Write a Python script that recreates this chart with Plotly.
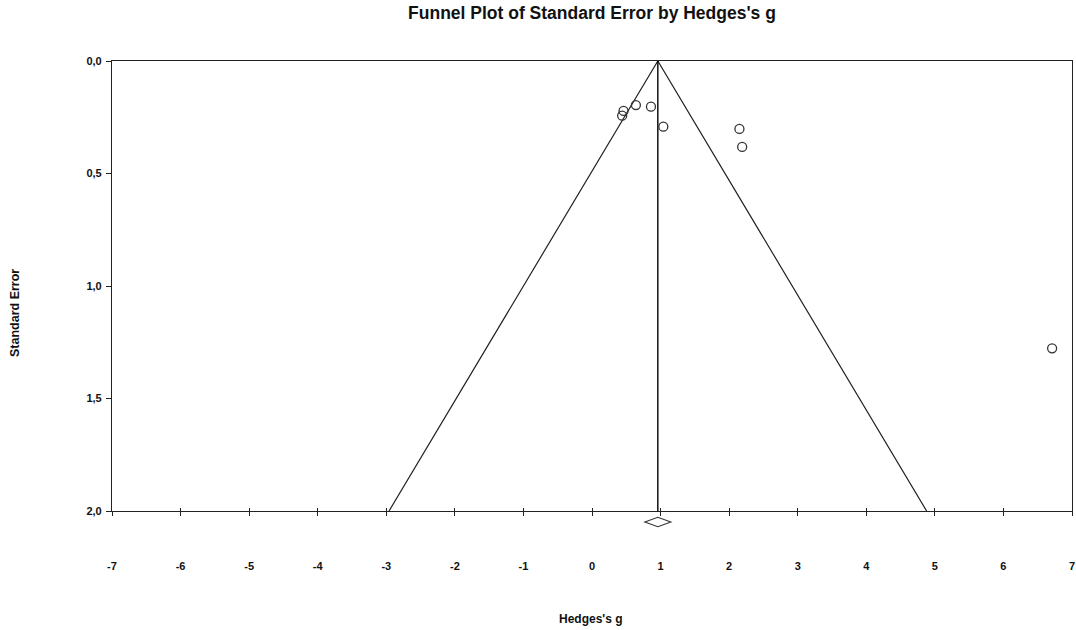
import plotly.graph_objects as go

# Study data (Hedges's g, standard error)
hedges_g = [0.46, 0.44, 0.64, 0.86, 1.04, 2.15, 2.19, 6.71]
std_err = [0.222, 0.243, 0.196, 0.203, 0.292, 0.302, 0.382, 1.277]

# Pooled estimate and its confidence interval
pooled = 0.96
ci_low = 0.77
ci_high = 1.15

se_max = 2.0
z = 1.96
x_min, x_max = -7, 7
x_ticks = list(range(x_min, x_max + 1))
y_ticks = [0.0, 0.5, 1.0, 1.5, 2.0]
y_tick_text = ["0,0", "0,5", "1,0", "1,5", "2,0"]

line_col = "#222222"
font_fam = "Liberation Sans, Arial, sans-serif"

fig = go.Figure()

# Funnel (pseudo 95% limits)
fig.add_trace(go.Scatter(
    x=[pooled - z * se_max, pooled, pooled + z * se_max],
    y=[se_max, 0, se_max],
    mode="lines", line=dict(color=line_col, width=1.2),
    hoverinfo="skip", showlegend=False))

# Vertical line at pooled estimate
fig.add_trace(go.Scatter(
    x=[pooled, pooled], y=[0, se_max],
    mode="lines", line=dict(color="#000000", width=1.4),
    hoverinfo="skip", showlegend=False))

# Studies
fig.add_trace(go.Scatter(
    x=hedges_g, y=std_err, mode="markers",
    marker=dict(symbol="circle-open", size=9, color="#333333",
                line=dict(width=1.3, color="#333333")),
    showlegend=False))

# invisible trace on the overlay axis so its inner tick marks are drawn
fig.add_trace(go.Scatter(
    x=[x_min, x_max], y=[0, 0], xaxis="x2", mode="markers",
    marker=dict(opacity=0), hoverinfo="skip", showlegend=False))


# Diamond for the pooled estimate (below the axis, in paper coordinates)
def px(v):
    return (v - x_min) / (x_max - x_min)


d_cy = -0.0244
d_h = 0.0105
diamond_path = (f"M {px(ci_low)},{d_cy} L {px(pooled)},{d_cy + d_h} "
                f"L {px(ci_high)},{d_cy} L {px(pooled)},{d_cy - d_h} Z")

tickfont = dict(family=font_fam, size=11, color="#111111", weight="bold")

fig.update_layout(
    width=1076, height=630,
    margin=dict(l=112, r=4, t=61, b=119, autoexpand=False),
    paper_bgcolor="white", plot_bgcolor="white",
    title=dict(text="Funnel Plot of Standard Error by Hedges's g",
               x=592 / 1076, xanchor="center", y=1 - 13 / 630, yanchor="middle",
               font=dict(family=font_fam, size=17.5, color="#111111", weight="bold")),
    xaxis=dict(range=[x_min, x_max], tickvals=x_ticks, ticktext=[str(v) for v in x_ticks],
               showgrid=False, zeroline=False, showline=True, mirror=True,
               linecolor=line_col, linewidth=1.2, automargin=False,
               ticks="outside", ticklen=4, tickcolor=line_col, tickwidth=1.2,
               ticklabelstandoff=41, tickfont=tickfont),
    xaxis2=dict(range=[x_min, x_max], tickvals=x_ticks, overlaying="x", side="bottom",
                showticklabels=False, showgrid=False, zeroline=False, showline=False,
                automargin=False, ticks="inside", ticklen=3, tickcolor=line_col, tickwidth=1.2),
    yaxis=dict(range=[se_max, 0], tickvals=y_ticks, ticktext=y_tick_text,
               showgrid=False, zeroline=False, showline=True, mirror=True,
               linecolor=line_col, linewidth=1.2, automargin=False,
               ticks="outside", ticklen=5, tickcolor=line_col, tickwidth=1.2,
               ticklabelstandoff=2, tickfont=tickfont),
    shapes=[dict(type="path", xref="paper", yref="paper", path=diamond_path,
                 line=dict(color="#333333", width=1.1), fillcolor="rgba(0,0,0,0)")],
    annotations=[
        dict(text="Hedges's g", xref="paper", yref="paper",
             x=(591 - 112) / 960, y=-(619 - 511) / 450, xanchor="center", yanchor="middle",
             showarrow=False, font=dict(family=font_fam, size=12, color="#111111", weight="bold")),
        dict(text="Standard Error", xref="paper", yref="paper",
             x=(15 - 112) / 960, y=1 - (313 - 61) / 450, xanchor="center", yanchor="middle",
             textangle=-90, showarrow=False,
             font=dict(family=font_fam, size=12.5, color="#111111", weight="bold")),
    ],
)

fig.write_html("out.html", config={"displayModeBar": False},
               post_script="document.body.style.margin='0';document.body.style.overflow='hidden';")
